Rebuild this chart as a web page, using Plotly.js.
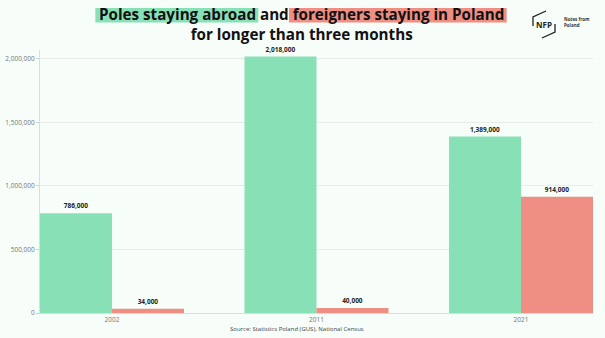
<!DOCTYPE html>
<html>
<head>
<meta charset="utf-8">
<script src="https://cdn.plot.ly/plotly-3.0.1.min.js"></script>
<style>html,body{margin:0;padding:0;background:#f7fdf8;}#chart{width:605px;height:338px;}</style>
</head>
<body>
<div id="chart"></div>
<script>
const categories = ['2002', '2011', '2021'];
const polesAbroad = [786000, 2018000, 1389000];
const foreignersInPoland = [34000, 40000, 914000];
const yTickVals = [0, 500000, 1000000, 1500000, 2000000];
const yTickText = ['0', '500,000', '1,000,000', '1,500,000', '2,000,000'];
const titlePart1 = 'Poles staying abroad';
const titlePart2 = ' and ';
const titlePart3 = 'foreigners staying in Poland';
const titleLine2 = 'for longer than three months';

const W = 605, H = 338, L = 40, R = 12, T = 50, B = 25;
const pw = W - L - R, ph = H - T - B;
const px = x => (x - L) / pw;
const py = y => (H - B - y) / ph;

const GREEN = '#88e1b6', RED = '#ef8e82';
const bw = 0.352;
const TSIZE = 15.2;

// measure title text to place highlight boxes
const ctx = document.createElement('canvas').getContext('2d');
ctx.font = `700 ${TSIZE}px "Open Sans"`;
const m = s => ctx.measureText(s).width;
const line1 = titlePart1 + titlePart2 + titlePart3;
const wLine = m(line1);
const cx = 301;
const x0 = cx - wLine / 2;
const g0 = x0 - 3, g1 = x0 + m(titlePart1) + 3;
const r0 = x0 + m(titlePart1 + titlePart2) - 3, r1 = x0 + wLine + 3;

const traces = [
  {type: 'bar', x: categories, y: polesAbroad, name: 'Poles staying abroad',
   marker: {color: GREEN}, texttemplate: '%{y:,.0f}', textposition: 'outside',
   textfont: {family: 'Open Sans', size: 6.5, color: '#222', weight: 700}, cliponaxis: false, hoverinfo: 'none'},
  {type: 'bar', x: categories, y: foreignersInPoland, name: 'Foreigners staying in Poland',
   marker: {color: RED}, texttemplate: '%{y:,.0f}', textposition: 'outside',
   textfont: {family: 'Open Sans', size: 6.5, color: '#222', weight: 700}, cliponaxis: false, hoverinfo: 'none'}
];

const titleFont = {family: 'Open Sans', size: TSIZE, color: '#111', weight: 700};
const ann = [
  {text: line1 + '<br>' + titleLine2, x: px(cx), y: py(24.5), font: titleFont},
  {text: 'NFP', x: px(544), y: py(25), font: {family: 'Open Sans', size: 8, color: '#222', weight: 700}},
  {text: 'Notes from<br>Poland', x: px(562), y: py(22), xanchor: 'left', align: 'left', font: {family: 'Open Sans', size: 4.5, color: '#333', weight: 700}},
  {text: 'Source: Statistics Poland (GUS), National Census', x: px(297), y: py(329), font: {family: 'Open Sans', size: 6, color: '#444'}}
].map(a => Object.assign({xref: 'paper', yref: 'paper', xanchor: 'center', yanchor: 'middle', showarrow: false}, a));

const lineStyle = {color: '#222', width: 1.3};
const shapes = [
  {type: 'rect', x0: px(g0), x1: px(g1), y0: py(22.5), y1: py(8), fillcolor: GREEN, line: {width: 0}, layer: 'below'},
  {type: 'rect', x0: px(r0), x1: px(r1), y0: py(22.5), y1: py(8), fillcolor: RED, line: {width: 0}, layer: 'below'},
  {type: 'path', path: `M ${px(546)} ${py(11)} L ${px(533)} ${py(17)} L ${px(533)} ${py(26)}`, line: lineStyle},
  {type: 'path', path: `M ${px(555)} ${py(24)} L ${px(555)} ${py(32)} L ${px(542)} ${py(38)}`, line: lineStyle}
].map(s => Object.assign({xref: 'paper', yref: 'paper'}, s));

const layout = {
  width: W, height: H,
  margin: {l: L, r: R, t: T, b: B, pad: 0},
  paper_bgcolor: '#f7fdf8', plot_bgcolor: '#f7fdf8',
  barmode: 'group', bargap: 1 - 2 * bw, bargroupgap: 0,
  showlegend: false,
  font: {family: 'Open Sans', color: '#777'},
  xaxis: {type: 'category', range: [-bw, 2 + bw], showgrid: false, showline: true, linecolor: '#dddddd',
          tickfont: {size: 6.5, color: '#777'}, ticks: '', fixedrange: true},
  yaxis: {range: [0, 2070000], tickvals: yTickVals, ticktext: yTickText, showgrid: true, gridcolor: '#e8ece9',
          showline: true, linecolor: '#dddddd', ticks: 'outside', ticklen: 3, tickcolor: '#cccccc',
          tickfont: {size: 6.5, color: '#777'}, zeroline: false, fixedrange: true},
  annotations: ann,
  shapes: shapes
};

Plotly.newPlot('chart', traces, layout, {displayModeBar: false, staticPlot: true});
</script>
</body>
</html>
